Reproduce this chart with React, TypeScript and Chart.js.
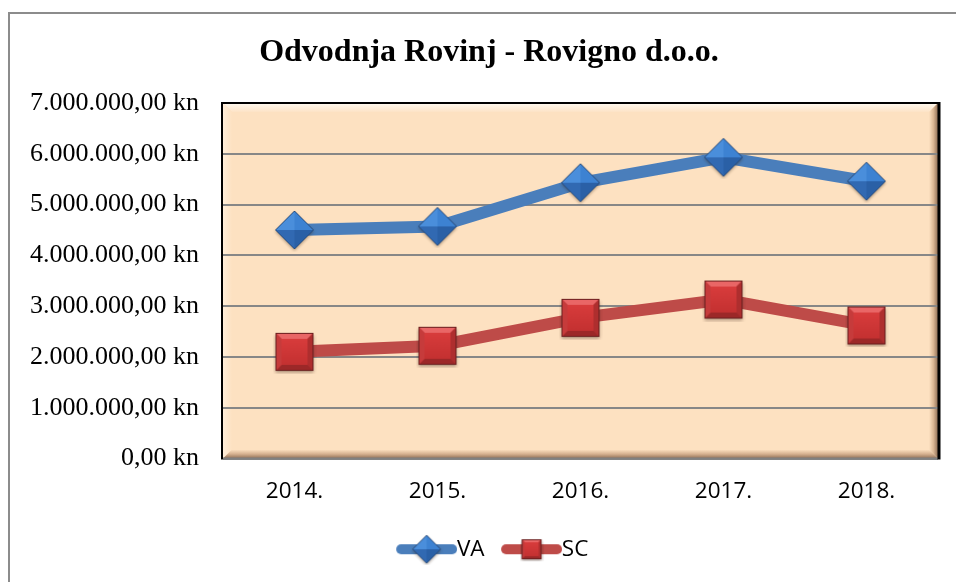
import React, { useEffect, useRef } from 'react';
import { Chart, registerables } from 'chart.js';

Chart.register(...registerables);

const titleText = 'Odvodnja Rovinj - Rovigno d.o.o.';
const categories = ['2014.', '2015.', '2016.', '2017.', '2018.'];
const seriesLabels = ['VA', 'SC'];
const vaValues = [4500000, 4570000, 5430000, 5930000, 5460000];
const scValues = [2100000, 2220000, 2770000, 3130000, 2620000];
const yMin = 0;
const yMax = 7000000;
const yStep = 1000000;

const BLUE = '#4A7EBB';
const RED = '#BE4B48';

function formatKn(v: number): string {
  const int = Math.round(v).toString().replace(/\B(?=(\d{3})+(?!\d))/g, '.');
  return int + ',00 kn';
}

type Pt = [number, number];
function poly(g: CanvasRenderingContext2D, pts: Pt[]) {
  g.beginPath();
  g.moveTo(pts[0][0], pts[0][1]);
  for (let i = 1; i < pts.length; i++) g.lineTo(pts[i][0], pts[i][1]);
  g.closePath();
}

function makeDiamond(r: number, pad: number): HTMLCanvasElement {
  const s = Math.ceil(2 * r + 2 * pad);
  const c = document.createElement('canvas');
  c.width = s;
  c.height = s;
  const g = c.getContext('2d')!;
  const cx = s / 2, cy = s / 2;
  const top: Pt = [cx, cy - r], right: Pt = [cx + r, cy], bottom: Pt = [cx, cy + r], left: Pt = [cx - r, cy];
  const ctr: Pt = [cx, cy];
  g.save();
  g.shadowColor = 'rgba(60,40,20,0.45)';
  g.shadowBlur = 3;
  g.shadowOffsetY = 1.5;
  poly(g, [top, right, bottom, left]);
  g.fillStyle = '#2E65AB';
  g.fill();
  g.restore();
  poly(g, [left, top, ctr]);
  g.fillStyle = '#4A8EDB';
  g.fill();
  poly(g, [top, right, ctr]);
  g.fillStyle = '#3D82D2';
  g.fill();
  poly(g, [right, bottom, ctr]);
  g.fillStyle = '#2A60A6';
  g.fill();
  poly(g, [bottom, left, ctr]);
  g.fillStyle = '#3169B2';
  g.fill();
  poly(g, [top, right, bottom, left]);
  g.strokeStyle = '#284C7C';
  g.lineWidth = 1;
  g.stroke();
  return c;
}

function makeSquare(side: number, bevel: number, pad: number): HTMLCanvasElement {
  const s = Math.ceil(side + 2 * pad);
  const c = document.createElement('canvas');
  c.width = s;
  c.height = s;
  const g = c.getContext('2d')!;
  const x0 = (s - side) / 2, y0 = (s - side) / 2, x1 = x0 + side, y1 = y0 + side;
  const b = bevel;
  g.save();
  g.shadowColor = 'rgba(60,30,20,0.45)';
  g.shadowBlur = 3;
  g.shadowOffsetY = 1.5;
  g.fillStyle = '#B83232';
  g.fillRect(x0, y0, side, side);
  g.restore();
  poly(g, [[x0, y0], [x1, y0], [x1 - b, y0 + b], [x0 + b, y0 + b]]);
  g.fillStyle = '#E96666';
  g.fill();
  poly(g, [[x1, y0], [x1, y1], [x1 - b, y1 - b], [x1 - b, y0 + b]]);
  g.fillStyle = '#AE2E2E';
  g.fill();
  poly(g, [[x0, y1], [x1, y1], [x1 - b, y1 - b], [x0 + b, y1 - b]]);
  g.fillStyle = '#9C2828';
  g.fill();
  poly(g, [[x0, y0], [x0 + b, y0 + b], [x0 + b, y1 - b], [x0, y1]]);
  g.fillStyle = '#C63B3B';
  g.fill();
  const grad = g.createLinearGradient(0, y0 + b, 0, y1 - b);
  grad.addColorStop(0, '#D83C3C');
  grad.addColorStop(1, '#C43131');
  g.fillStyle = grad;
  g.fillRect(x0 + b, y0 + b, side - 2 * b, side - 2 * b);
  g.strokeStyle = '#6B1F1F';
  g.lineWidth = 1;
  g.strokeRect(x0 + 0.5, y0 + 0.5, side - 1, side - 1);
  return c;
}

function makeLegendImage(color: string, marker: HTMLCanvasElement): HTMLCanvasElement {
  const W = 79, H = 32;
  const c = document.createElement('canvas');
  c.width = W;
  c.height = H;
  const g = c.getContext('2d')!;
  g.strokeStyle = color;
  g.lineWidth = 10;
  g.lineCap = 'round';
  g.beginPath();
  g.moveTo(18 + 5, H / 2);
  g.lineTo(W - 5, H / 2);
  g.stroke();
  g.drawImage(marker, 48.5 - marker.width / 2, H / 2 - marker.height / 2);
  return c;
}

const plotBackground = {
  id: 'plotBackground',
  beforeDraw(chart: any) {
    const { ctx, chartArea: a } = chart;
    const l = a.left, t = a.top, r = a.right, b = a.bottom;
    ctx.save();
    ctx.fillStyle = '#ffffff';
    ctx.fillRect(0, 0, chart.width, chart.height);
    // outer frame (left and top visible)
    ctx.strokeStyle = '#8C8C8C';
    ctx.lineWidth = 2;
    ctx.beginPath();
    ctx.moveTo(9, chart.height);
    ctx.lineTo(9, 13);
    ctx.lineTo(chart.width, 13);
    ctx.stroke();
    // plot fill
    ctx.fillStyle = '#FDE1C1';
    ctx.fillRect(l, t, r - l, b - t);
    const bv = 9;
    let g = ctx.createLinearGradient(0, t, 0, t + bv);
    g.addColorStop(0, '#FFF9F0');
    g.addColorStop(1, '#FDE3C6');
    poly(ctx, [[l, t], [r, t], [r - bv, t + bv], [l + bv, t + bv]]);
    ctx.fillStyle = g;
    ctx.fill();
    g = ctx.createLinearGradient(l, 0, l + bv, 0);
    g.addColorStop(0, '#FFEEDA');
    g.addColorStop(1, '#FDE1C1');
    poly(ctx, [[l, t], [l + bv, t + bv], [l + bv, b - bv], [l, b]]);
    ctx.fillStyle = g;
    ctx.fill();
    g = ctx.createLinearGradient(r - bv, 0, r, 0);
    g.addColorStop(0, '#FDE1C1');
    g.addColorStop(0.5, '#D9B592');
    g.addColorStop(1, '#8E6E55');
    poly(ctx, [[r, t], [r, b], [r - bv, b - bv], [r - bv, t + bv]]);
    ctx.fillStyle = g;
    ctx.fill();
    g = ctx.createLinearGradient(0, b - bv, 0, b);
    g.addColorStop(0, '#FDE1C1');
    g.addColorStop(0.5, '#D6B190');
    g.addColorStop(1, '#8E6E55');
    poly(ctx, [[l, b], [r, b], [r - bv, b - bv], [l + bv, b - bv]]);
    ctx.fillStyle = g;
    ctx.fill();
    ctx.restore();
  },
  beforeDatasetsDraw(chart: any) {
    const { ctx, chartArea: a } = chart;
    const l = a.left, t = a.top, r = a.right, b = a.bottom;
    ctx.save();
    ctx.strokeStyle = '#808080';
    ctx.lineWidth = 2;
    ctx.beginPath();
    ctx.moveTo(l, b);
    ctx.lineTo(r, b);
    ctx.stroke();
    ctx.strokeStyle = '#000000';
    ctx.lineWidth = 2;
    ctx.beginPath();
    ctx.moveTo(l - 1, b + 1);
    ctx.lineTo(l - 1, t);
    ctx.lineTo(r, t);
    ctx.stroke();
    ctx.lineWidth = 3;
    ctx.beginPath();
    ctx.moveTo(r + 1, t - 1);
    ctx.lineTo(r + 1, b + 1);
    ctx.stroke();
    ctx.restore();
  },
};

export default function App() {
  const ref = useRef<HTMLCanvasElement | null>(null);

  useEffect(() => {
    if (!ref.current) return;
    const diamond = makeDiamond(19, 3);
    const square = makeSquare(38, 6, 3);
    const legendImgs = [
      makeLegendImage(BLUE, makeDiamond(14, 2)),
      makeLegendImage(RED, makeSquare(20, 3, 2)),
    ];

    const chart = new Chart(ref.current, {
      type: 'line',
      data: {
        labels: categories,
        datasets: [
          {
            label: seriesLabels[0],
            data: vaValues,
            borderColor: BLUE,
            backgroundColor: BLUE,
            borderWidth: 12,
            pointStyle: diamond as any,
            pointRadius: 19,
            tension: 0,
            clip: false as any,
          },
          {
            label: seriesLabels[1],
            data: scValues,
            borderColor: RED,
            backgroundColor: RED,
            borderWidth: 12,
            pointStyle: square as any,
            pointRadius: 19,
            tension: 0,
            clip: false as any,
          },
        ],
      },
      options: {
        responsive: false,
        animation: false,
        devicePixelRatio: 1,
        layout: { autoPadding: false, padding: { left: 22, right: 0, top: 0, bottom: 11.5 } },
        plugins: {
          title: {
            display: true,
            text: titleText,
            color: '#000000',
            font: { family: '"Liberation Serif", "Times New Roman", serif', size: 32, weight: 'bold' },
            padding: { top: 34, bottom: 30.6 },
          },
          legend: {
            display: true,
            position: 'bottom',
            labels: {
              usePointStyle: true,
              pointStyleWidth: 56,
              padding: 10,
              color: '#000000',
              font: { family: '"Open Sans", sans-serif', size: 22.5 },
              generateLabels: (ch: any) => {
                const items = Chart.defaults.plugins.legend.labels.generateLabels(ch);
                return items.map((it: any, i: number) => ({ ...it, pointStyle: legendImgs[i] }));
              },
            },
          },
          tooltip: { enabled: false },
        },
        scales: {
          x: {
            offset: true,
            grid: { display: false, drawTicks: false },
            border: { display: false },
            ticks: {
              color: '#000000',
              padding: 20,
              maxRotation: 0,
              font: { family: '"Open Sans", sans-serif', size: 22.5 },
            },
            afterFit: (scale: any) => {
              scale.height = 69.5;
              scale.paddingLeft = 0;
              scale.paddingRight = 0;
            },
          },
          y: {
            min: yMin,
            max: yMax,
            grid: { color: '#878787', lineWidth: 2, drawTicks: false },
            border: { display: false },
            ticks: {
              stepSize: yStep,
              color: '#000000',
              padding: 24,
              font: { family: '"Liberation Serif", "Times New Roman", serif', size: 26 },
              callback: (v: any) => formatKn(Number(v)),
            },
            afterFit: (scale: any) => {
              scale.width = 201;
            },
          },
          yRight: {
            type: 'linear',
            position: 'right',
            display: true,
            min: yMin,
            max: yMax,
            grid: { display: false, drawTicks: false },
            border: { display: false },
            ticks: { display: false },
            afterFit: (scale: any) => {
              scale.width = 18;
              scale.paddingTop = 0;
              scale.paddingBottom = 0;
            },
          },
        },
      },
      plugins: [plotBackground],
    });

    return () => chart.destroy();
  }, []);

  return (
    <div style={{ position: 'absolute', left: 0, top: 0, width: 956, height: 582, background: '#fff' }}>
      <canvas ref={ref} width={956} height={582} style={{ width: 956, height: 582, display: 'block' }} />
    </div>
  );
}
